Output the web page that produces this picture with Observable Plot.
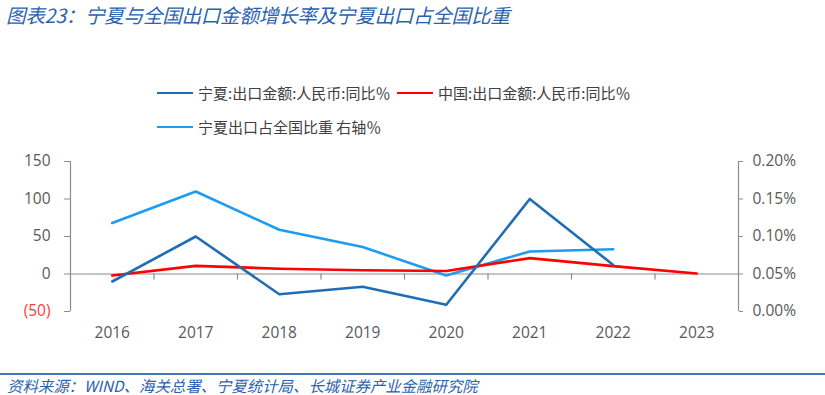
<!DOCTYPE html>
<html><head><meta charset="utf-8">
<script src="https://cdn.jsdelivr.net/npm/d3@7"></script>
<script src="https://cdn.jsdelivr.net/npm/@observablehq/plot@0.6"></script>
<style>
body{margin:0;background:#fff;width:825px;height:395px;position:relative;overflow:hidden;font-family:"Open Sans","Noto Sans CJK SC",sans-serif;}
#title{position:absolute;left:6px;top:2px;font-size:19.6px;line-height:26px;font-style:italic;color:#2a62b0;font-family:"Noto Sans CJK SC",sans-serif;white-space:nowrap;letter-spacing:-0.3px}
#footer-line{position:absolute;left:0;top:373px;width:825px;height:2px;background:#4874bd}
#footer{position:absolute;left:7px;top:376px;font-size:15.4px;line-height:18px;font-style:italic;color:#2a62b0;font-family:"Noto Sans CJK SC",sans-serif;white-space:nowrap}
.leg{position:absolute;display:flex;align-items:center;font-size:15px;line-height:20px;color:#404040;font-family:"Noto Sans CJK SC",sans-serif;white-space:nowrap}
.leg span.sw{display:inline-block;width:36px;height:2.5px;margin-right:5px}
#chart{position:absolute;left:0;top:140px}
</style></head>
<body>
<div id="title"></div>
<div id="legend"></div>
<div id="chart"></div>
<div id="footer-line"></div>
<div id="footer"></div>
<script>
const titleText = "图表23：宁夏与全国出口金额增长率及宁夏出口占全国比重";
const sourceText = "资料来源：WIND、海关总署、宁夏统计局、长城证券产业金融研究院";
const years = [2016, 2017, 2018, 2019, 2020, 2021, 2022, 2023];
const nxYoY = [-10, 50, -27, -17, -41, 100, 12, null];      // 宁夏:出口金额:人民币:同比%
const cnYoY = [-2.0, 10.8, 7.1, 5.0, 4.0, 21.2, 10.5, 0.6]; // 中国:出口金额:人民币:同比%
const nxShare = [0.118, 0.160, 0.109, 0.086, 0.048, 0.080, 0.083, null]; // 宁夏出口占全国比重 %
const leftTicks = [-50, 0, 50, 100, 150];
const rightTicks = [0, 0.05, 0.10, 0.15, 0.20];
const seriesNames = ["宁夏:出口金额:人民币:同比％", "中国:出口金额:人民币:同比％", "宁夏出口占全国比重 右轴％"];
const seriesColors = ["#1f6db5", "#ff0000", "#1e9cf2"];

const leftDomain = [leftTicks[0], leftTicks[leftTicks.length - 1]];
const rightDomain = [rightTicks[0], rightTicks[rightTicks.length - 1]];
const toLeft = s => leftDomain[0] + (s - rightDomain[0]) / (rightDomain[1] - rightDomain[0]) * (leftDomain[1] - leftDomain[0]);
const toRight = v => rightDomain[0] + (v - leftDomain[0]) / (leftDomain[1] - leftDomain[0]) * (rightDomain[1] - rightDomain[0]);
const xDomain = [years[0] - 0.5, years[years.length - 1] + 0.5];
const bounds = years.slice(0, -1).map(y => y + 0.5);

const rows = (vals, f = v => v) => years.map((y, i) => ({year: y, v: vals[i] == null ? null : f(vals[i])})).filter(d => d.v != null);

document.getElementById("title").textContent = titleText;
document.getElementById("footer").textContent = sourceText;

const legend = document.getElementById("legend");
const legPos = [[157, 83], [397, 83], [157, 117]];
seriesNames.forEach((n, i) => {
  const d = document.createElement("div");
  d.className = "leg";
  d.style.left = legPos[i][0] + "px";
  d.style.top = legPos[i][1] + "px";
  d.innerHTML = `<span class="sw" style="background:${seriesColors[i]}"></span><span></span>`;
  d.lastChild.textContent = n;
  legend.appendChild(d);
});

const axisColor = "#8c8c8c";
const chart = Plot.plot({
  width: 825, height: 220,
  marginLeft: 70, marginRight: 87, marginTop: 21, marginBottom: 49,
  x: {type: "linear", domain: xDomain},
  y: {domain: leftDomain},
  style: {fontFamily: "'Open Sans','Noto Sans CJK SC',sans-serif", fontSize: "15.5px", color: "#595959", background: "transparent"},
  marks: [
    Plot.ruleX([xDomain[0], xDomain[1]], {y1: leftDomain[0], y2: leftDomain[1], stroke: axisColor, strokeWidth: 1.2}),
    Plot.ruleY([0], {stroke: axisColor, strokeWidth: 1.2}),
    Plot.ruleX(bounds, {y1: 0, y2: 0, insetBottom: -6, stroke: axisColor, strokeWidth: 1.2}),
    Plot.axisY(leftTicks.filter(t => t >= 0), {anchor: "left", tickSize: 6, tickPadding: 14, stroke: axisColor, fill: "#595959", label: null}),
    Plot.axisY(leftTicks.filter(t => t < 0), {anchor: "left", tickSize: 6, tickPadding: 14, stroke: axisColor, fill: "#ff3b3b", label: null, tickFormat: d => `(${Math.abs(d)})`}),
    Plot.axisY(rightTicks.map(toLeft), {anchor: "right", tickSize: 4, tickPadding: 10, stroke: axisColor, fill: "#595959", label: null, tickFormat: d => toRight(d).toFixed(2) + "%"}),
    Plot.axisX(years, {anchor: "bottom", tickSize: 0, tickPadding: 15, fill: "#595959", label: null, tickFormat: d => String(d)}),
    Plot.line(rows(nxShare, toLeft), {x: "year", y: "v", stroke: seriesColors[2], strokeWidth: 2.6}),
    Plot.line(rows(cnYoY), {x: "year", y: "v", stroke: seriesColors[1], strokeWidth: 2.6}),
    Plot.line(rows(nxYoY), {x: "year", y: "v", stroke: seriesColors[0], strokeWidth: 2.6})
  ]
});
document.getElementById("chart").appendChild(chart);
</script>
</body></html>
